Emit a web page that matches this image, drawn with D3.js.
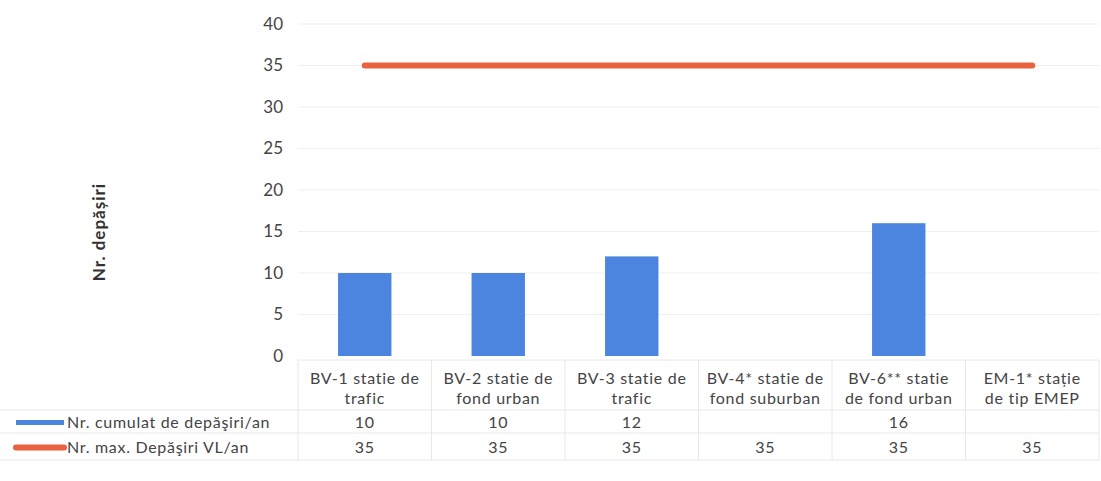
<!DOCTYPE html>
<html lang="ro">
<head>
<meta charset="UTF-8">
<title>Nr. depășiri</title>
<script src="https://d3js.org/d3.v7.min.js"></script>
<style>
    body { margin: 0; background: #fff; font-family: Lato, "Open Sans", sans-serif; }
    .tick text { fill: #444; }
    .cell-text { fill: #444; font-size: 16px; letter-spacing: 0.7px; }
    .grid line { stroke: #efefef; }
    .table-line { stroke: #e8e8e8; stroke-width: 1; }
</style>
</head>
<body>
<svg width="1101" height="481"></svg>
<script>
    // chart data
    const categories = [
        ["BV-1 statie de", "trafic"],
        ["BV-2 statie de", "fond urban"],
        ["BV-3 statie de", "trafic"],
        ["BV-4* statie de", "fond suburban"],
        ["BV-6** statie", "de fond urban"],
        ["EM-1* stație", "de tip EMEP"]
    ];
    const cumulat = [10, 10, 12, null, 16, null];
    const maxVL = [35, 35, 35, 35, 35, 35];
    const yTicks = [0, 5, 10, 15, 20, 25, 30, 35, 40];
    const seriesNames = ["Nr. cumulat de depăşiri/an", "Nr. max. Depăşiri VL/an"];

    const blue = "#4b85df", red = "#e8623f";

    const svg = d3.select("svg");
    const plotL = 298, plotR = 1099, plotT = 24, plotB = 356;

    const x = d3.scaleBand()
        .domain(d3.range(categories.length))
        .range([plotL, plotR]);
    const y = d3.scaleLinear().domain([0, 40]).range([plotB, plotT]);

    // gridlines
    svg.append("g").attr("class", "grid")
        .selectAll("line").data(yTicks.filter(d => d > 0)).enter().append("line")
        .attr("x1", plotL).attr("x2", plotR)
        .attr("y1", d => y(d)).attr("y2", d => y(d));

    // y axis (labels only)
    const yAxis = svg.append("g")
        .attr("transform", `translate(${plotL - 15},0)`)
        .call(d3.axisLeft(y).tickValues(yTicks).tickSize(0).tickPadding(0));
    yAxis.select(".domain").remove();
    yAxis.selectAll("text").attr("font-size", 17).attr("font-family", "Lato, sans-serif");

    // y axis title
    svg.append("text")
        .attr("transform", `translate(105,${(plotT + plotB) / 2 + 42}) rotate(-90)`)
        .attr("text-anchor", "middle")
        .attr("font-size", 17).attr("font-weight", "bold").attr("fill", "#333")
        .attr("letter-spacing", "1px")
        .text("Nr. depășiri");

    // bars
    const bw = x.bandwidth() * 0.4;
    svg.append("g").selectAll("rect")
        .data(cumulat.map((v, i) => ({ v, i })).filter(d => d.v != null))
        .enter().append("rect")
        .attr("x", d => x(d.i) + (x.bandwidth() - bw) / 2)
        .attr("y", d => y(d.v))
        .attr("width", bw)
        .attr("height", d => y(0) - y(d.v))
        .attr("fill", blue);

    // limit line
    const line = d3.line()
        .x((d, i) => x(i) + x.bandwidth() / 2)
        .y(d => y(d));
    svg.append("path")
        .datum(maxVL)
        .attr("d", line)
        .attr("fill", "none")
        .attr("stroke", red)
        .attr("stroke-width", 6)
        .attr("stroke-linecap", "round");

    // data table
    const hTop = 360, hBot = 410, r1 = 433, r2 = 460;
    const tbl = svg.append("g");
    tbl.append("line").attr("class", "table-line")
        .attr("x1", plotL).attr("x2", plotR).attr("y1", hTop).attr("y2", hTop);
    [hBot, r1, r2].forEach(yy => tbl.append("line").attr("class", "table-line")
        .attr("x1", 0).attr("x2", plotR).attr("y1", yy).attr("y2", yy));
    d3.range(categories.length + 1).forEach(i => {
        const xx = i < categories.length ? x(i) : plotR;
        tbl.append("line").attr("class", "table-line")
            .attr("x1", xx).attr("x2", xx).attr("y1", hTop).attr("y2", r2);
    });

    // category labels
    categories.forEach((lines, i) => {
        const cx = x(i) + x.bandwidth() / 2;
        const t = tbl.append("text").attr("class", "cell-text")
            .attr("text-anchor", "middle");
        lines.forEach((s, k) => t.append("tspan")
            .attr("x", cx)
            .attr("y", 384 + k * 20)
            .text(s));
    });

    // row values
    const rowsY = [(hBot + r1) / 2 + 6, (r1 + r2) / 2 + 6];
    [cumulat, maxVL].forEach((row, r) => {
        row.forEach((v, i) => {
            if (v == null) return;
            tbl.append("text").attr("class", "cell-text")
                .attr("text-anchor", "middle")
                .attr("x", x(i) + x.bandwidth() / 2)
                .attr("y", rowsY[r])
                .text(v);
        });
    });

    // legend keys + row names
    [blue, red].forEach((c, r) => {
        const cy = rowsY[r] - 5;
        tbl.append("line")
            .attr("x1", 16).attr("x2", 64).attr("y1", cy).attr("y2", cy)
            .attr("stroke", c).attr("stroke-width", r === 0 ? 5 : 6)
            .attr("stroke-linecap", r === 0 ? "butt" : "round");
        tbl.append("text").attr("class", "cell-text")
            .attr("x", 67).attr("y", rowsY[r])
            .text(seriesNames[r]);
    });
</script>
</body>
</html>
